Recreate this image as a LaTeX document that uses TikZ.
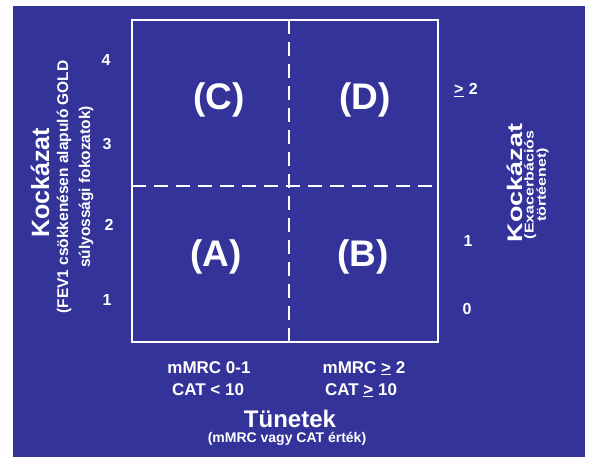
\documentclass[tikz,border=0pt]{standalone}
\usepackage{fontspec}
\setmainfont{Liberation Sans}
\definecolor{bg}{RGB}{51,51,153}
\begin{document}
\begin{tikzpicture}[x=1pt,y=-1pt,
  wt/.style={text=white,inner sep=0pt,font=\bfseries},
  quad/.style={wt,font=\bfseries\fontsize{37}{40}\selectfont},
  tick/.style={wt,font=\bfseries\fontsize{16}{18}\selectfont},
  cat/.style={wt,anchor=base,font=\bfseries\fontsize{17}{20}\selectfont},
  frame/.style={white,line width=2.2pt},
  divider/.style={white,line width=2.8pt,dash pattern=on 14pt off 8pt}]
\useasboundingbox (0,0) rectangle (594,463);
\fill[white] (0,0) rectangle (594,463);
\fill[bg] (13,6) rectangle (585,457);
% grid
\coordinate (tl) at (132,20);
\coordinate (br) at (438,342);
\draw[frame] (tl) rectangle (br);
\coordinate (vt) at (289,20);
\coordinate (vb) at (289,342);
\coordinate (hl) at (132,186);
\coordinate (hr) at (438,186);
\draw[divider] (vt) -- (vb);
\draw[divider] (hl) -- (hr);
% quadrant labels
\node[quad] (qC) at (219,100) {(C)};
\node[quad] (qD) at (365,100) {(D)};
\node[quad] (qA) at (216,257) {(A)};
\node[quad] (qB) at (363,257) {(B)};
% left ticks
\node[tick] (l4) at (106,60) {4};
\node[tick] (l3) at (107,144) {3};
\node[tick] (l2) at (109,225) {2};
\node[tick] (l1) at (107,300) {1};
% right ticks
\node[tick] (r2) at (466,90) {\underline{>}\,\,2};
\node[tick] (r1) at (468,241) {1};
\node[tick] (r0) at (467,309) {0};
% left axis title
\node[wt,rotate=90,font=\bfseries\fontsize{25}{28}\selectfont] (lk) at (40,183) {Kockázat};
\node[wt,rotate=90,align=center,font=\bfseries\fontsize{15.5}{22}\selectfont] (lsub) at (75,187)
  {(FEV1 csökkenésen alapuló GOLD\\súlyossági fokozatok)};
% right axis title
\node[wt,rotate=90] (rk) at (515,183) {\scalebox{1}[0.78]{\fontsize{27}{30}\selectfont Kockázat}};
\node[wt,rotate=90] (rsub) at (537,185) {\scalebox{1}[0.8]{\fontsize{16}{16}\selectfont\begin{tabular}{@{}c@{}}(Exacerbációs\\[-1pt]törtéenet)\end{tabular}}};
% bottom labels
\node[cat] (m1) at (209,373) {mMRC 0-1};
\node[cat] (c1) at (208,395) {CAT < 10};
\node[cat] (m2) at (364,373) {mMRC \underline{>} 2};
\node[cat] (c2) at (361,395) {CAT \underline{>} 10};
\node[wt,anchor=base,font=\bfseries\fontsize{24}{28}\selectfont] (tn) at (290,427) {Tünetek};
\node[wt,anchor=base,font=\bfseries\fontsize{14}{16}\selectfont] (tsub) at (287,442) {(mMRC vagy CAT érték)};
\end{tikzpicture}
\end{document}
